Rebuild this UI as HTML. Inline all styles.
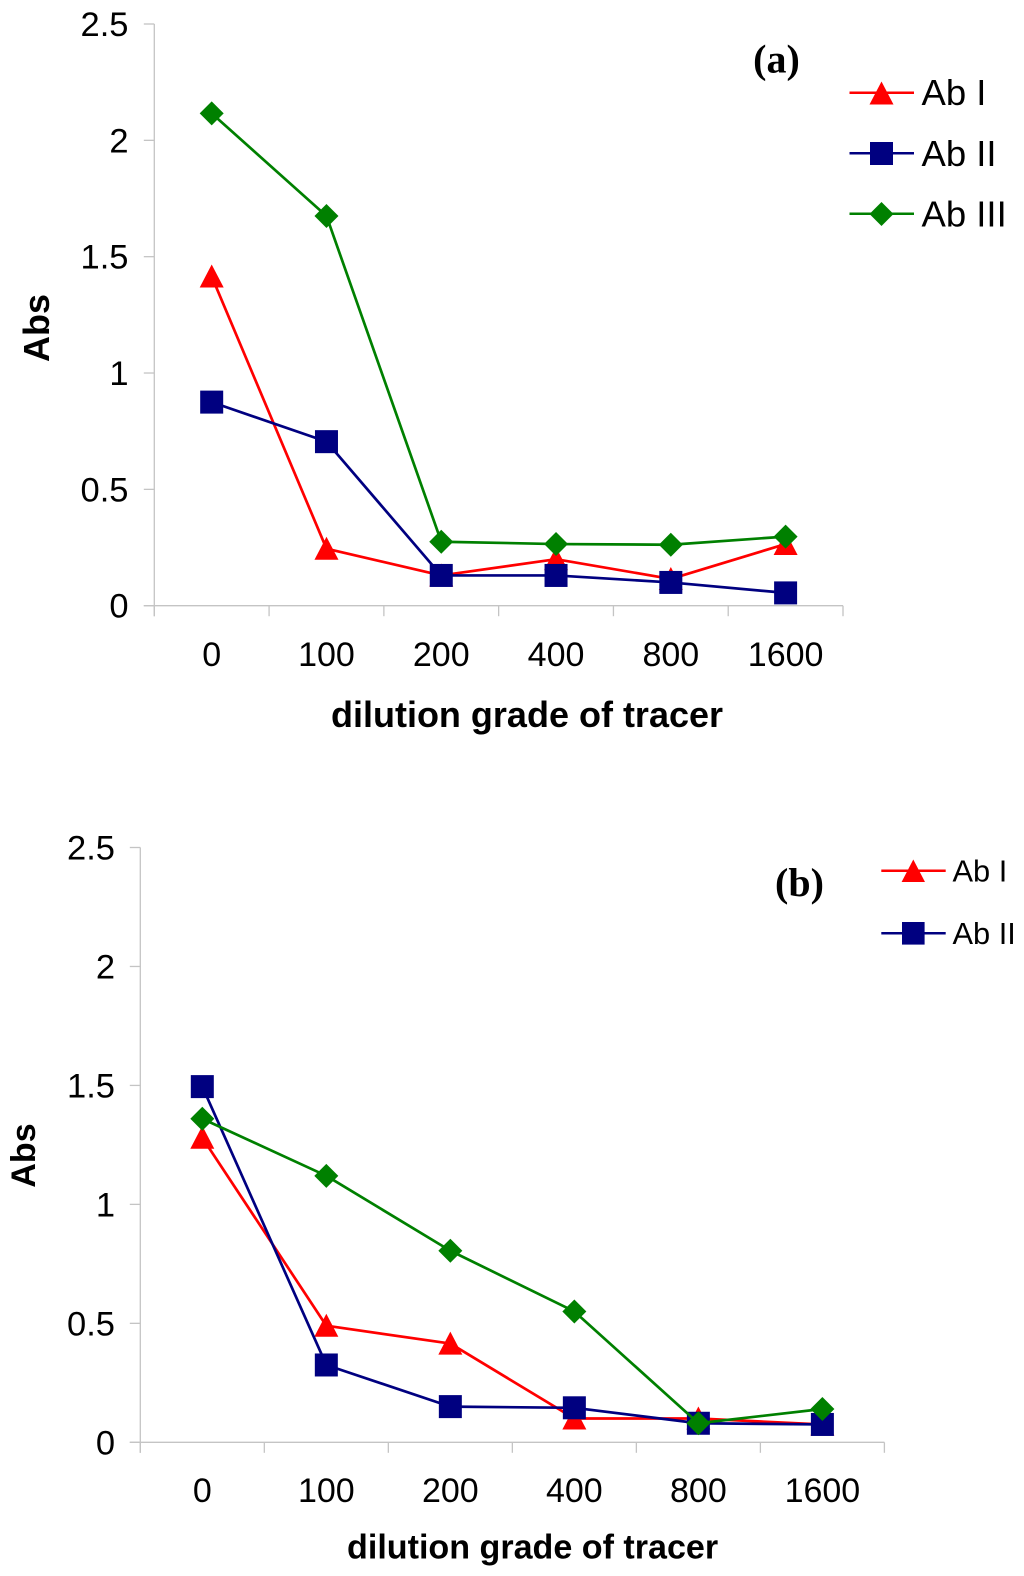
<!DOCTYPE html>
<html>
<head>
<meta charset="utf-8">
<title>Abs vs dilution grade of tracer</title>
<style>
html,body{margin:0;padding:0;background:#fff;}
svg{display:block;}
text{font-family:"Liberation Sans",sans-serif;fill:#000;}
.tick{font-size:34.5px;}
.tick-x{font-size:34px;}
.title-a{font-size:36px;font-weight:bold;}
.title-b{font-size:34.1px;font-weight:bold;}
.panel{font-family:"Liberation Serif",serif;font-size:40px;font-weight:bold;}
.lega{font-size:36.5px;}
.legb{font-size:30.8px;}
</style>
</head>
<body>
<svg id="figure" width="1024" height="1576" viewBox="0 0 1024 1576" xmlns="http://www.w3.org/2000/svg">
  <rect x="0" y="0" width="1024" height="1576" fill="#fff"/>
  <g id="chart-a"></g>
  <g id="chart-b"></g>

  <text class="title-a" text-anchor="middle" transform="translate(49,328) rotate(-90)">Abs</text>
  <text class="title-a" text-anchor="middle" x="527" y="727">dilution grade of tracer</text>
  <text class="panel" text-anchor="middle" x="776.5" y="72.5">(a)</text>

  <text class="title-b" text-anchor="middle" transform="translate(35,1155.5) rotate(-90)">Abs</text>
  <text class="title-b" text-anchor="middle" x="532.6" y="1558.5">dilution grade of tracer</text>
  <text class="panel" text-anchor="middle" x="799.5" y="896">(b)</text>

  <g>
    <g>
      <line x1="849.5" y1="92.7" x2="914" y2="92.7" stroke="#ff0000" stroke-width="2.5"/>
      <polygon points="881.5,81.5 893.5,104.5 869.5,104.5" fill="#ff0000"/>
      <text class="lega" x="921.5" y="105">Ab I</text>
    </g>
    <g>
      <line x1="849.5" y1="153.3" x2="914" y2="153.3" stroke="#000080" stroke-width="2.5"/>
      <rect x="870" y="142" width="23" height="23" fill="#000080"/>
      <text class="lega" x="921.5" y="166">Ab II</text>
    </g>
    <g>
      <line x1="849.5" y1="213.7" x2="914" y2="213.7" stroke="#008000" stroke-width="2.5"/>
      <polygon points="881.5,202 893.5,214 881.5,226 869.5,214" fill="#008000"/>
      <text class="lega" x="921.5" y="226.5">Ab III</text>
    </g>
  </g>
  <g>
    <g>
      <line x1="881.3" y1="870.7" x2="945.7" y2="870.7" stroke="#ff0000" stroke-width="2.5"/>
      <polygon points="913.3,859.5 925,882 901.6,882" fill="#ff0000"/>
      <text class="legb" x="952.5" y="881.7">Ab I</text>
    </g>
    <g>
      <line x1="881.3" y1="933.3" x2="945.7" y2="933.3" stroke="#000080" stroke-width="2.5"/>
      <rect x="902" y="922" width="22.6" height="22.6" fill="#000080"/>
      <text class="legb" x="952.5" y="944">Ab II</text>
    </g>
  </g>
</svg>
<script>
const categories = ['0', '100', '200', '400', '800', '1600'];
const yTickValues = [0, 0.5, 1, 1.5, 2, 2.5];
const yMax = 2.5;

const chartAAbI = [1.415, 0.245, 0.13, 0.2, 0.115, 0.265];
const chartAAbII = [0.875, 0.705, 0.13, 0.13, 0.1, 0.055];
const chartAAbIII = [2.116, 1.675, 0.275, 0.265, 0.262, 0.297];

const chartBAbI = [1.28, 0.49, 0.415, 0.1, 0.1, 0.075];
const chartBAbII = [1.495, 0.325, 0.15, 0.145, 0.08, 0.075];
const chartBAbIII = [1.36, 1.12, 0.805, 0.55, 0.08, 0.14];

const NS = 'http://www.w3.org/2000/svg';
const AXIS_COLOR = '#c4c4c4';

function svgEl(tag, attrs, parent) {
  const el = document.createElementNS(NS, tag);
  for (const k in attrs) el.setAttribute(k, attrs[k]);
  parent.appendChild(el);
  return el;
}

function markerTriangle(x, y, parent) {
  const el = svgEl('polygon', {
    points: x + ',' + (y - 12) + ' ' + (x + 12) + ',' + (y + 11) + ' ' + (x - 12) + ',' + (y + 11),
    fill: '#ff0000'
  }, parent);
  return el;
}
function markerSquare(x, y, parent) {
  const el = svgEl('rect', { x: x - 11.5, y: y - 11.5, width: 23, height: 23, fill: '#000080' }, parent);
  return el;
}
function markerDiamond(x, y, parent) {
  const el = svgEl('polygon', {
    points: x + ',' + (y - 12) + ' ' + (x + 12) + ',' + y + ' ' + x + ',' + (y + 12) + ' ' + (x - 12) + ',' + y,
    fill: '#008000'
  }, parent);
  return el;
}

function drawChart(root, box, seriesList) {
  const band = (box.right - box.left) / categories.length;
  const xPos = function (i) { return box.left + band * (i + 0.5); };
  const yPos = function (v) { return box.bottom - (v / yMax) * (box.bottom - box.top); };

  const axisGroup = svgEl('g', {}, root);
  
  

  const yAxis = svgEl('line', { x1: box.left, y1: box.top, x2: box.left, y2: box.bottom + 10.5, stroke: AXIS_COLOR, 'stroke-width': 1.3 }, axisGroup);
  
  

  const xAxis = svgEl('line', { x1: box.left - 10.5, y1: box.bottom, x2: box.right, y2: box.bottom, stroke: AXIS_COLOR, 'stroke-width': 1.3 }, axisGroup);
  
  

  yTickValues.forEach(function (v) {
    const y = yPos(v);
    const mark = svgEl('line', { x1: box.left - 10.5, y1: y, x2: box.left, y2: y, stroke: AXIS_COLOR, 'stroke-width': 1.3 }, axisGroup);
    
    
    const label = svgEl('text', { class: 'tick', x: box.yLabelX, y: y + 12, 'text-anchor': 'end' }, axisGroup);
    label.textContent = String(v);
    
    
  });

  for (let i = 0; i <= categories.length; i++) {
    const x = box.left + band * i;
    const mark = svgEl('line', { x1: x, y1: box.bottom, x2: x, y2: box.bottom + 10.5, stroke: AXIS_COLOR, 'stroke-width': 1.3 }, axisGroup);
    
    
  }

  categories.forEach(function (c, i) {
    const label = svgEl('text', { class: 'tick-x', x: xPos(i), y: box.xLabelY, 'text-anchor': 'middle' }, axisGroup);
    label.textContent = c;
    
    
  });

  seriesList.forEach(function (s) {
    const group = svgEl('g', {}, root);
    
    
    const pts = s.values.map(function (v, i) { return xPos(i) + ',' + yPos(v); }).join(' ');
    const line = svgEl('polyline', { points: pts, fill: 'none', stroke: s.color, 'stroke-width': 2.7, 'stroke-linejoin': 'round' }, group);
    
    
    s.values.forEach(function (v, i) {
      const m = s.marker(xPos(i), yPos(v), group);
      
      
    });
  });
}

drawChart(document.getElementById('chart-a'),
  { left: 154.3, right: 843, top: 24, bottom: 605.7, yLabelX: 128.5, xLabelY: 666 },
  [
    { name: 'series-ab-i', values: chartAAbI, color: '#ff0000', marker: markerTriangle },
    { name: 'series-ab-ii', values: chartAAbII, color: '#000080', marker: markerSquare },
    { name: 'series-ab-iii', values: chartAAbIII, color: '#008000', marker: markerDiamond }
  ]);

drawChart(document.getElementById('chart-b'),
  { left: 140.3, right: 884.4, top: 847.5, bottom: 1442.3, yLabelX: 115, xLabelY: 1502 },
  [
    { name: 'series-ab-i', values: chartBAbI, color: '#ff0000', marker: markerTriangle },
    { name: 'series-ab-ii', values: chartBAbII, color: '#000080', marker: markerSquare },
    { name: 'series-ab-iii', values: chartBAbIII, color: '#008000', marker: markerDiamond }
  ]);
</script>
</body>
</html>
